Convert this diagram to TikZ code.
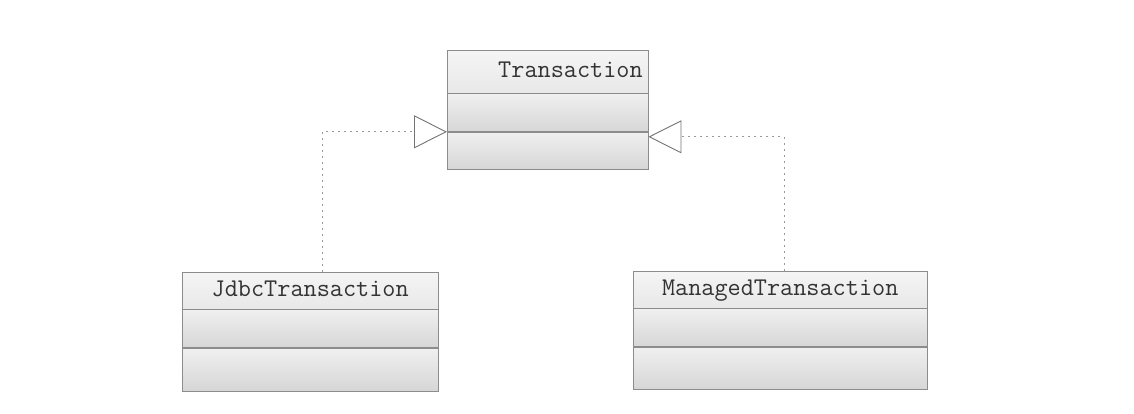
\documentclass[tikz,border=0pt]{standalone}
\usetikzlibrary{positioning, arrows.meta}
\tikzstyle{classhead} = [rectangle,
inner xsep=5pt,
inner ysep=0pt,
text height=17pt,
text depth=5pt,
text centered,
draw=black!45,
top color=black!4,
bottom color=black!9,
text=black!80,
font=\fontsize{25.5}{30}\selectfont\ttfamily]
\tikzstyle{classbody} = [rectangle,
inner sep=0pt,
draw=black!45,
top color=black!6,
bottom color=black!16]
\tikzstyle{realize} = [dash pattern=on 2pt off 4pt, black!40, line width=1.2pt,
-{Triangle[open, length=33pt, width=33pt, fill=white, line width=0.9pt, color=black!55]}]

\begin{document}
\begin{tikzpicture}[x=1pt, y=-1pt]
\useasboundingbox (0,0) rectangle (1134,413);

\node (trans) [classhead, anchor=north west, minimum width=201pt, minimum height=43pt,
  text width=190pt, align=right] at (447,50) {Transaction};
\node (transAttr) [classbody, below=0pt of trans, minimum width=201pt, minimum height=38pt] {};
\node (transOp) [classbody, below=0pt of transAttr, minimum width=201pt, minimum height=37pt] {};

\node (jdbc) [classhead, anchor=north west, minimum width=256pt, minimum height=37pt] at (182,272) {JdbcTransaction};
\node (jdbcAttr) [classbody, below=0pt of jdbc, minimum width=256pt, minimum height=38pt] {};
\node (jdbcOp) [classbody, below=0pt of jdbcAttr, minimum width=256pt, minimum height=43pt] {};

\node (managed) [classhead, anchor=north west, minimum width=294pt, minimum height=37pt] at (633,271) {ManagedTransaction};
\node (managedAttr) [classbody, below=0pt of managed, minimum width=294pt, minimum height=38pt] {};
\node (managedOp) [classbody, below=0pt of managedAttr, minimum width=294pt, minimum height=42pt] {};

\draw [realize] ([xshift=12pt]jdbc.north) |- (transOp.north west);
\draw [realize] ([xshift=4pt]managed.north) |- ([yshift=-5pt]transOp.north east);

\end{tikzpicture}
\end{document}
